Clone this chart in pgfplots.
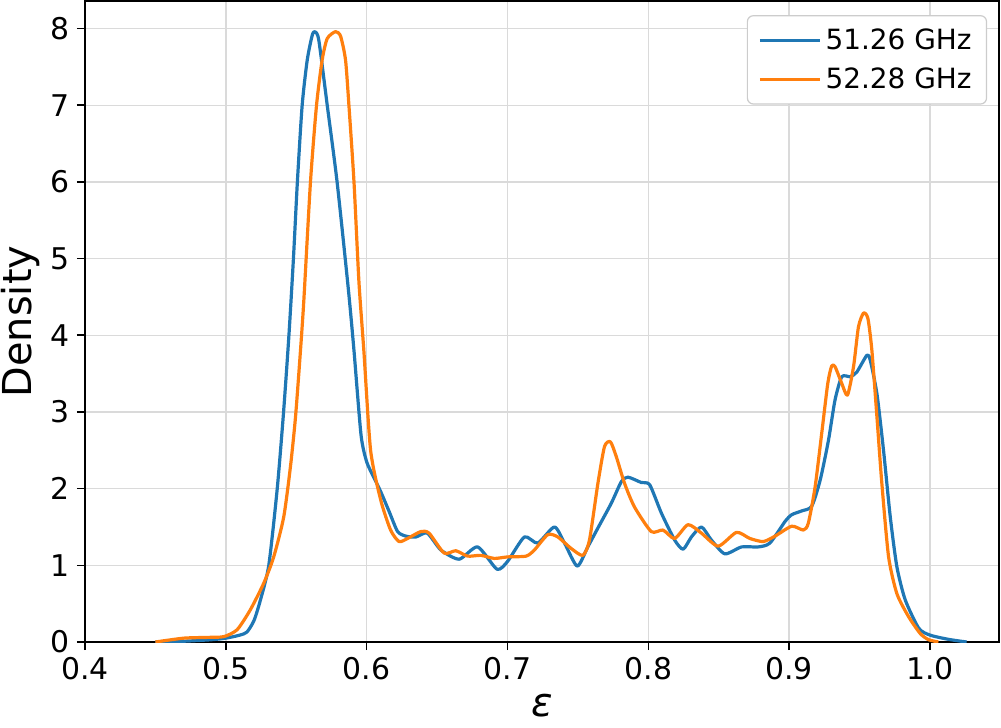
\documentclass[border=0pt]{standalone}
\usepackage{fontspec}
\setmainfont{DejaVu Sans}
\usepackage{pgfplots}
\pgfplotsset{compat=1.18}
\definecolor{cblue}{HTML}{1F77B4}
\definecolor{corange}{HTML}{FF7F0E}
\definecolor{gridgray}{RGB}{218,218,218}
\definecolor{legframe}{RGB}{204,204,204}
\begin{document}
\begin{tikzpicture}
\begin{axis}[
  scale only axis, width=457bp, height=320.5bp,
  xmin=0.4, xmax=1.049, ymin=0, ymax=8.36,
  xtick={0.4,0.5,0.6,0.7,0.8,0.9,1.0},
  ytick={0,1,2,3,4,5,6,7,8},
  /pgf/number format/assume math mode=true,
  xticklabel style={/pgf/number format/.cd,fixed,fixed zerofill,precision=1},
  ticklabel style={font=\fontsize{15}{18}\selectfont},
  tick align=outside, tick pos=left,
  major tick length=4bp,
  tick style={black, line width=0.8bp},
  axis line style={line width=0.8bp},
  grid=major, major grid style={gridgray, line width=0.75bp},
  xlabel={\itshape ε},
  xlabel style={at={(axis description cs:0.5,-0.116)}, anchor=base, inner sep=0pt, font=\fontsize{20}{24}\selectfont},
  ylabel={Density},
  ylabel style={at={(axis description cs:-0.058,0.5)}, anchor=base, inner sep=0pt, font=\fontsize{20}{24}\selectfont},
  legend style={at={(0.987,0.978)}, anchor=north east, draw=legframe, line width=0.6bp,
    rounded corners=3bp, font=\fontsize{14}{16.5}\selectfont, fill=white,
    inner xsep=5.5bp, inner ysep=4.5bp, row sep=3.5bp},
  legend cell align=left,
  legend image code/.code={\draw[#1, line width=1.6bp] (0bp,0bp) -- (30bp,0bp);},
  every axis plot/.append style={line width=1.6bp, line join=round, smooth, tension=0.4},
]
% 51.26 GHz
\addplot[cblue] coordinates {
(0.450,0.00) (0.470,0.01) (0.490,0.03) (0.500,0.05) (0.510,0.09) (0.515,0.13)
(0.520,0.28) (0.5246,0.55) (0.5305,1.00) (0.5365,2.00) (0.541,3.00) (0.5448,4.00)
(0.548,5.00) (0.5508,6.00) (0.5542,7.00) (0.5578,7.59) (0.5613,7.91) (0.5632,7.96)
(0.566,7.85) (0.572,7.00) (0.579,6.00) (0.587,4.60) (0.591,3.80) (0.596,2.70)
(0.600,2.35) (0.605,2.15) (0.610,1.96) (0.616,1.70) (0.622,1.44) (0.628,1.38)
(0.635,1.37) (0.643,1.42) (0.6527,1.20) (0.6657,1.08) (0.6788,1.24) (0.6925,0.95)
(0.700,1.05) (0.712,1.37) (0.7215,1.29) (0.7333,1.50) (0.7405,1.29) (0.7495,0.99)
(0.757,1.24) (0.764,1.48) (0.7737,1.81) (0.7808,2.09) (0.7855,2.15) (0.795,2.08)
(0.801,2.05) (0.8093,1.68) (0.8187,1.33) (0.8247,1.21) (0.8306,1.37) (0.8377,1.50)
(0.8448,1.33) (0.8543,1.15) (0.8662,1.24) (0.878,1.24) (0.8863,1.29) (0.897,1.57)
(0.9018,1.66) (0.909,1.71) (0.916,1.77) (0.922,2.11) (0.9279,2.63) (0.9326,3.16)
(0.9374,3.46) (0.9433,3.46) (0.948,3.52) (0.9552,3.74) (0.9575,3.68) (0.9623,3.24)
(0.967,2.50) (0.9718,1.63) (0.9765,0.98) (0.9824,0.55) (0.992,0.18) (1.000,0.09)
(1.013,0.035) (1.026,0.00)
};
\addlegendentry{51.26 GHz}
% 52.28 GHz
\addplot[corange] coordinates {
(0.450,0.00) (0.470,0.05) (0.4866,0.06) (0.4985,0.07) (0.508,0.16) (0.5174,0.42)
(0.527,0.77) (0.534,1.11) (0.5411,1.63) (0.5459,2.29) (0.5495,2.94) (0.553,3.80)
(0.5554,4.46) (0.5601,6.00) (0.5644,7.00) (0.5684,7.59) (0.572,7.87) (0.5779,7.96)
(0.5815,7.90) (0.585,7.59) (0.5874,7.00) (0.591,6.00) (0.5945,4.70) (0.598,3.80)
(0.6028,2.50) (0.610,1.85) (0.617,1.46) (0.623,1.31) (0.629,1.35) (0.6384,1.44)
(0.6443,1.42) (0.655,1.16) (0.6633,1.19) (0.6717,1.12) (0.6811,1.13) (0.6906,1.09)
(0.7001,1.11) (0.7132,1.12) (0.7191,1.20) (0.7286,1.40) (0.7357,1.37) (0.7452,1.22)
(0.7535,1.13) (0.7582,1.33) (0.7642,2.07) (0.7689,2.55) (0.7731,2.61) (0.7772,2.42)
(0.7831,2.07) (0.7902,1.76) (0.8021,1.44) (0.8104,1.46) (0.8187,1.35) (0.8282,1.53)
(0.8377,1.42) (0.8496,1.25) (0.8626,1.43) (0.8721,1.35) (0.8816,1.31) (0.8899,1.38)
(0.9018,1.51) (0.9101,1.46) (0.9136,1.55) (0.9184,2.02) (0.9231,2.72) (0.9274,3.37)
(0.9302,3.60) (0.9326,3.59) (0.9374,3.37) (0.9414,3.22) (0.9457,3.59) (0.9492,4.11)
(0.9528,4.29) (0.9559,4.22) (0.9587,3.81) (0.9623,2.94) (0.9658,2.07) (0.9706,1.11)
(0.9765,0.63) (0.9848,0.33) (0.9931,0.11) (0.999,0.03) (1.006,0.00)
};
\addlegendentry{52.28 GHz}
\end{axis}
\pgfresetboundingbox
\path[use as bounding box] (current axis.south west) ++(-42.5bp,-43bp) rectangle ([shift={(1bp,0.5bp)}]current axis.north east);
\end{tikzpicture}
\end{document}
